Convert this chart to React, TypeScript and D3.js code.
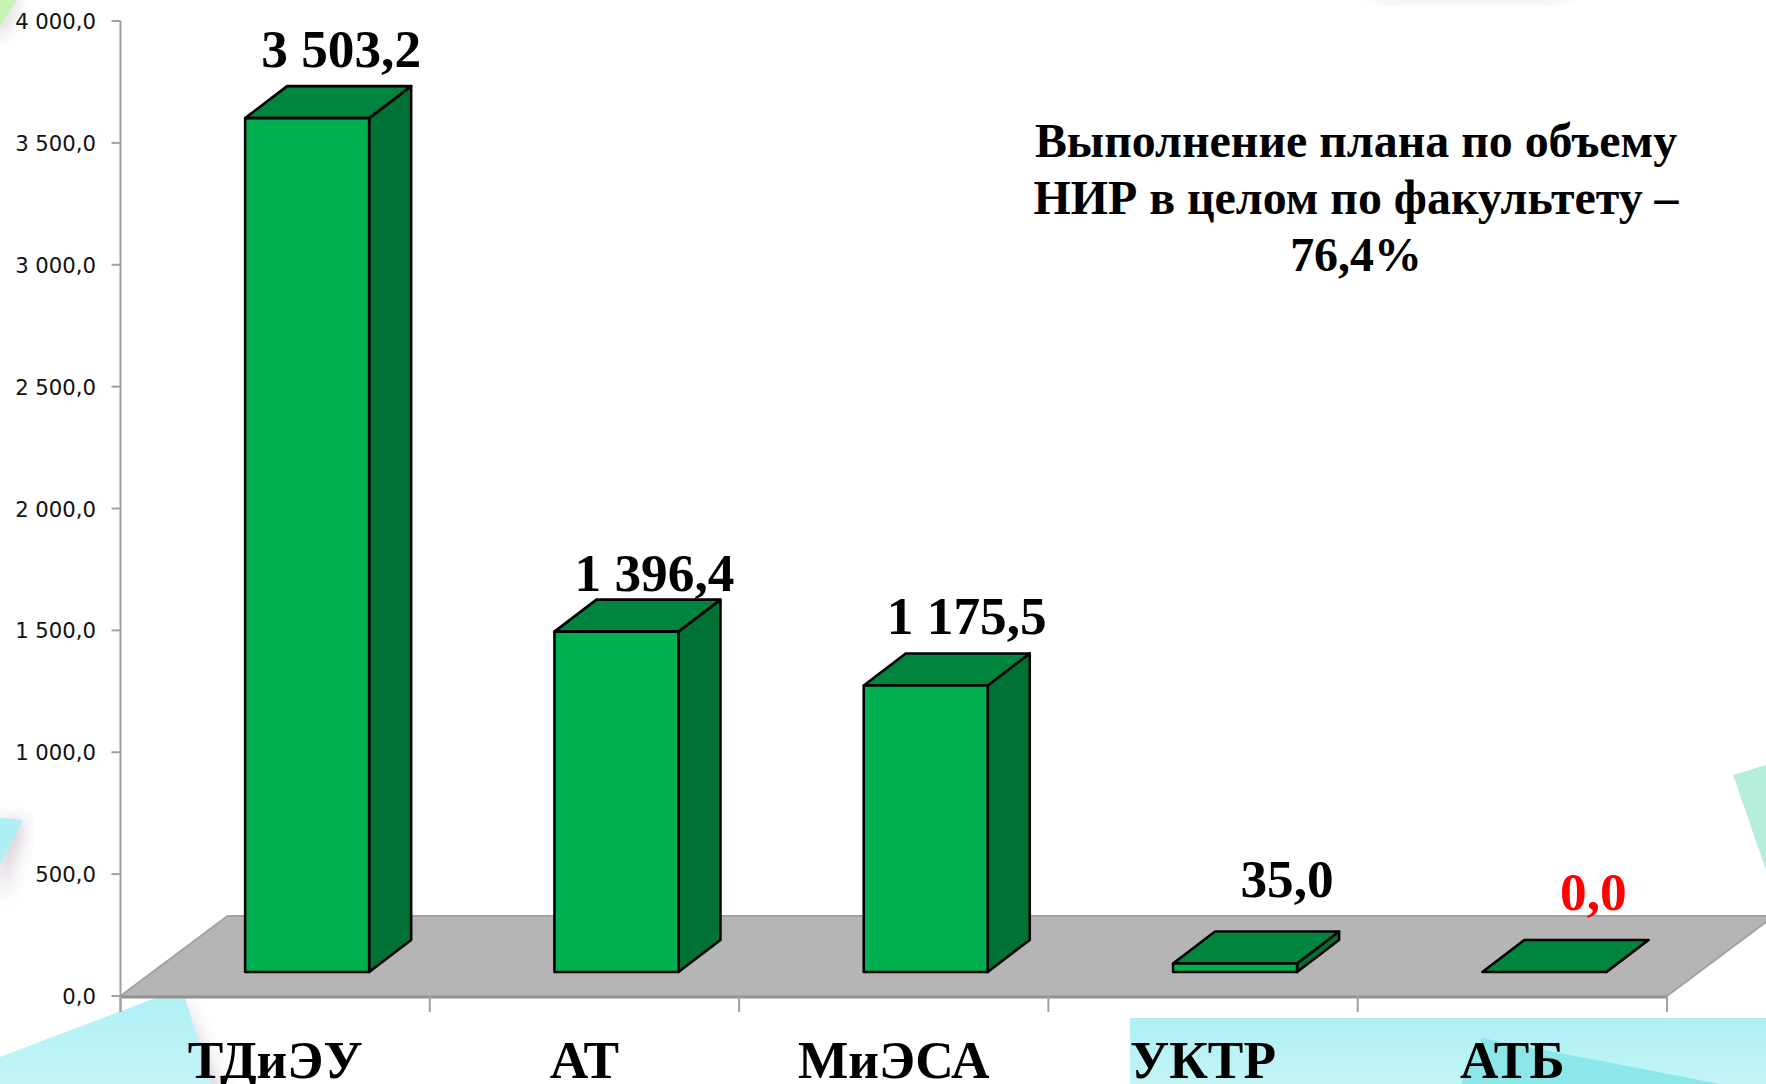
import React from "react";
import * as d3 from "d3";

const categories = ["ТДиЭУ", "АТ", "МиЭСА", "УКТР", "АТБ"];
const values = [3503.2, 1396.4, 1175.5, 35.0, 0.0];
const valueColors = ["#000", "#000", "#000", "#000", "#ff0000"];
const yTicks = [0, 500, 1000, 1500, 2000, 2500, 3000, 3500, 4000];
const noteLines = ["Выполнение плана по объему", "НИР в целом по факультету –", "76,4%"];

// hand-placed offsets of the data labels, as in the reference
const labelDX = [2, 6, 9, 20, 17];
const labelDY = [-2, 8, -2, -17, -13];

const W = 1766, H = 1084;
const x0 = 120.5, x1 = 1667, yBase = 996, yTop = 21;
const depthX = 42, depthY = 32;      // 3D depth of a bar
const floorDX = 107, floorDY = 80;   // 3D depth of the floor
const barShiftX = 32, barShiftY = 24;
const SERIF = "'Liberation Serif', 'Times New Roman', serif";

const fmt = (v: number) => {
  const [a, b] = v.toFixed(1).split(".");
  return a.replace(/\B(?=(\d{3})+$)/g, " ") + "," + b;
};
const pts = (p: number[][]) => p.map((q) => q.join(",")).join(" ");

export default function App() {
  const y = d3.scaleLinear().domain([0, 4000]).range([yBase, yTop]);
  const x = d3.scaleBand<string>().domain(categories).range([x0, x1]);
  const xEdges = d3.range(categories.length + 1).map((i) => x0 + (i * (x1 - x0)) / categories.length);
  const barW = 124;

  return (
    <svg width={W} height={H} viewBox={`0 0 ${W} ${H}`} style={{ position: "absolute", left: 0, top: 0, display: "block", background: "#fff" }}>
      <defs>
        <filter id="blur" x="-30%" y="-30%" width="160%" height="160%"><feGaussianBlur stdDeviation="9" /></filter>
        <linearGradient id="cy" x1="0" y1="0" x2="0" y2="1">
          <stop offset="0" stopColor="#aeeff5" /><stop offset="1" stopColor="#c3f5f8" />
        </linearGradient>
      </defs>

      {/* background decoration */}
      <g>
        <polygon points="-10,-10 20,-10 6,32 -10,36" fill="#a9a9b0" opacity={0.45} filter="url(#blur)" />
        <polygon points="0,0 17,0 0,26" fill="#c4f3b4" />
        <polygon points="1366,-8 1576,-8 1560,2 1380,2" fill="#bbb" opacity={0.35} filter="url(#blur)" />
        <polygon points="0,820 26,822 0,905" fill="#b8a8b8" opacity={0.6} filter="url(#blur)" />
        <polygon points="0,818 23,820 0,864" fill="#aeeff5" />
        <polygon points="182,998 225,1100 170,1100" fill="#b8a8b8" opacity={0.55} filter="url(#blur)" />
        <polygon points="0,1057 182,988 212,1084 0,1084" fill="url(#cy)" />
        <polygon points="1733,775 1766,765 1766,870" fill="#b5efd9" />
        <rect x={1130} y={1018} width={636} height={66} fill="url(#cy)" />
        <polygon points="1482,1038 1720,1084 1461,1084" fill="#8ce8e8" />
      </g>

      {/* floor */}
      <polygon
        points={pts([[x0, yBase], [x0 + floorDX, yBase - floorDY], [x1 + floorDX, yBase - floorDY], [x1, yBase]])}
        fill="#b5b5b5"
      />
      <polyline
        points={pts([[x0, yBase], [x0 + floorDX, yBase - floorDY], [x1 + floorDX, yBase - floorDY], [x1, yBase]])}
        fill="none" stroke="#a3a3a3" strokeWidth={2}
      />

      {/* axes */}
      <line x1={x0} x2={x0} y1={yTop} y2={1012} stroke="#a0a0a0" strokeWidth={2} />
      <line x1={x0} x2={x1} y1={yBase + 1} y2={yBase + 1} stroke="#929292" strokeWidth={3} />
      {yTicks.map((t) => (
        <g key={t}>
          <line x1={x0 - 9} x2={x0} y1={y(t)} y2={y(t)} stroke="#a0a0a0" strokeWidth={2} />
          <text x={96} y={y(t) + 8} textAnchor="end" fontFamily="'DejaVu Sans', sans-serif" fontSize={21.2} fill="#111">{fmt(t)}</text>
        </g>
      ))}
      {xEdges.map((e, i) => (
        <line key={i} x1={e} x2={e} y1={yBase} y2={1012} stroke="#a0a0a0" strokeWidth={2} />
      ))}

      {/* bars */}
      {categories.map((c, i) => {
        const left = x(c)! + x.bandwidth() / 2 + barShiftX - barW / 2;
        const right = left + barW;
        const bottom = yBase - barShiftY;
        const top = y(values[i]) - barShiftY;
        return (
          <g key={c} stroke="#000" strokeWidth={2.6} strokeLinejoin="round">
            <polygon points={pts([[right, top], [right + depthX, top - depthY], [right + depthX, bottom - depthY], [right, bottom]])} fill="#007233" />
            <polygon points={pts([[left, top], [left + depthX, top - depthY], [right + depthX, top - depthY], [right, top]])} fill="#00853f" />
            <rect x={left} y={top} width={barW} height={bottom - top} fill="#00b050" />
          </g>
        );
      })}

      {/* value labels */}
      {categories.map((c, i) => {
        const cx = x(c)! + x.bandwidth() / 2 + barShiftX + 32 + labelDX[i];
        return (
          <text key={c} x={cx} y={y(values[i]) - barShiftY - depthY - 17 + labelDY[i]} textAnchor="middle"
            fontFamily={SERIF} fontWeight="bold" fontSize={53.3} fill={valueColors[i]}>{fmt(values[i])}</text>
        );
      })}

      {/* category labels */}
      {categories.map((c) => (
        <text key={c} x={x(c)! + x.bandwidth() / 2} y={1078} textAnchor="middle"
          fontFamily={SERIF} fontWeight="bold" fontSize={53.3} fill="#000">{c}</text>
      ))}

      {/* note */}
      {noteLines.map((l, i) => (
        <text key={i} x={1356} y={156.5 + i * 57} textAnchor="middle"
          fontFamily={SERIF} fontWeight="bold" fontSize={47.9} fill="#000">{l}</text>
      ))}
    </svg>
  );
}
